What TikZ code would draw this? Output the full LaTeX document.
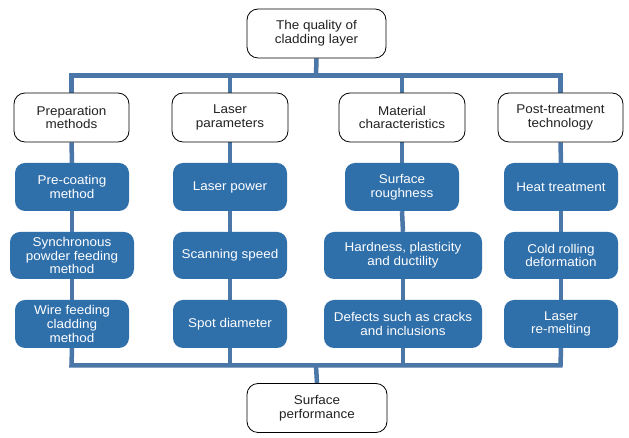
\documentclass[tikz,border=0pt]{standalone}
\usepackage{fontspec}
\setmainfont{Liberation Sans}[FakeStretch=1.06]
\usetikzlibrary{backgrounds}
\definecolor{busc}{HTML}{4A76A8}
\definecolor{boxc}{HTML}{2F6FAA}
\definecolor{txtc}{HTML}{222222}
\begin{document}
\begin{tikzpicture}[x=1pt,y=1pt,
  bus/.style={draw=busc,line width=4.5pt,line join=miter},
  whitebox/.style={draw=black,line width=0.8pt,fill=white,rounded corners=11pt,
    minimum height=49pt,align=center,text=txtc,inner sep=2pt,
    font=\fontsize{12.7}{13.6}\selectfont},
  bluebox/.style={fill=boxc,rounded corners=10pt,minimum height=48pt,
    align=center,text=white,inner sep=2pt,font=\fontsize{12.7}{13.6}\selectfont}]
\useasboundingbox (0,0) rectangle (629,438);
% nodes positioned (y = 438 - ypx)
\node[whitebox,minimum width=139pt] (top) at (316.5,404.5) {The quality of\\cladding layer};
\node[whitebox,minimum width=140pt] (bot) at (317,30) {Surface\\performance};
\coordinate (tb) at (316,362.5);
\coordinate (bb) at (316,72.5);
\coordinate (L) at (71.5,362.5);
\coordinate (R) at (560.5,362.5);
\coordinate (Lb) at (71.5,72.5);
\coordinate (Rb) at (560.5,72.5);
% columns
\node[whitebox,minimum width=115pt] (h1) at (71.5,320.5) {Preparation\\methods};
\node[whitebox,minimum width=116pt] (h2) at (230,320.5) {Laser\\parameters};
\node[whitebox,minimum width=126pt] (h3) at (402,320.5) {Material\\characteristics};
\node[whitebox,minimum width=125pt] (h4) at (560.5,320.5) {Post-treatment\\technology};
\node[bluebox,minimum width=114pt] (a1) at (72,251) {Pre-coating\\method};
\node[bluebox,minimum width=114pt] (b1) at (230,251) {Laser power};
\node[bluebox,minimum width=114pt] (c1) at (402,251) {Surface\\roughness};
\node[bluebox,minimum width=114pt] (d1) at (561,251) {Heat treatment};
\node[bluebox,minimum width=124pt,minimum height=47pt] (a2) at (72,182.5) {Synchronous\\powder feeding\\method};
\node[bluebox,minimum width=114pt,minimum height=47pt] (b2) at (230,182.5) {Scanning speed};
\node[bluebox,minimum width=158pt,minimum height=47pt] (c2) at (403,182.5) {Hardness, plasticity\\and ductility};
\node[bluebox,minimum width=114pt,minimum height=47pt] (d2) at (561,182.5) {Cold rolling\\deformation};
\node[bluebox,minimum width=114pt] (a3) at (72,114) {Wire feeding\\cladding\\method};
\node[bluebox,minimum width=114pt] (b3) at (230,114) {Spot diameter};
\node[bluebox,minimum width=158pt] (c3) at (403,114) {Defects such as cracks\\and inclusions};
\node[bluebox,minimum width=114pt] (d3) at (561,114) {Laser\\re-melting};
% connectors behind nodes
\begin{scope}[on background layer]
\fill[white] (0,0) rectangle (629,438);
\draw[bus] (top.south) -- (tb);
\draw[bus] (h1.north) -- (L) -- (R) -- (h4.north);
\draw[bus] (a3.south) -- (Lb) -- (Rb) -- (d3.south);
\draw[bus] (bb) -- (bot.north);
\draw[bus] (h2.north |- L) -- (h2.north);
\draw[bus] (h3.north |- L) -- (h3.north);
\foreach \h/\p/\q/\r in {h1/a1/a2/a3,h2/b1/b2/b3,h3/c1/c2/c3,h4/d1/d2/d3}{
  \draw[bus] (\h.south) -- (\p.north);
  \draw[bus] (\p.south) -- (\q.north);
  \draw[bus] (\q.south) -- (\r.north);
}
\draw[bus] (b3.south) -- (b3.south |- Lb);
\draw[bus] (c3.south) -- (c3.south |- Lb);
\end{scope}
\end{tikzpicture}
\end{document}
